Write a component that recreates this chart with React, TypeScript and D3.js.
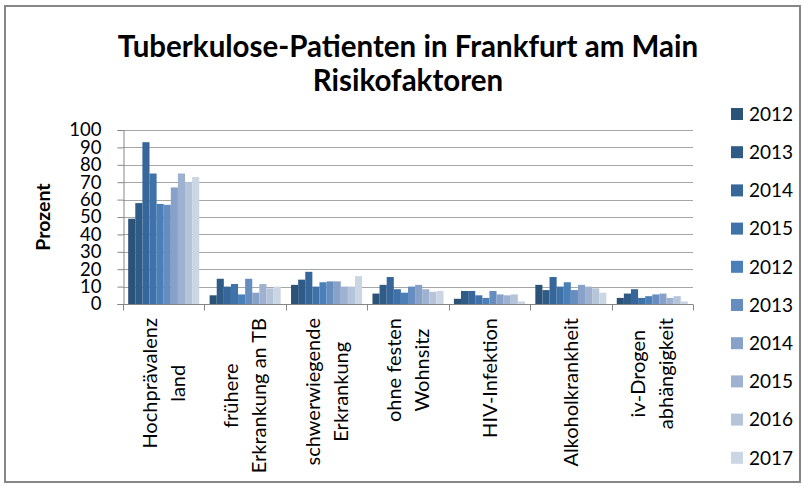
import React, { useEffect, useRef } from 'react';
import * as d3 from 'd3';

const categories: string[][] = [
  ['Hochprävalenz', 'land'],
  ['frühere', 'Erkrankung an TB'],
  ['schwerwiegende', 'Erkrankung'],
  ['ohne festen', 'Wohnsitz'],
  ['HIV-Infektion'],
  ['Alkoholkrankheit'],
  ['iv-Drogen', 'abhängigkeit'],
];

const seriesNames = ['2012', '2013', '2014', '2015', '2012', '2013', '2014', '2015', '2016', '2017'];

const s2012a = [49, 5, 11, 6, 3, 11, 3.5];
const s2013a = [58, 14.5, 14, 11, 7.5, 8, 6];
const s2014a = [93, 10, 18.5, 15.5, 7.5, 15.5, 8.5];
const s2015a = [75, 11.5, 10, 8.5, 5, 10, 3.5];
const s2012b = [57.5, 5.5, 12.5, 6.5, 3.5, 12.5, 4.5];
const s2013b = [57, 14.5, 13, 10, 7.5, 8, 5.5];
const s2014b = [67, 6.5, 13, 11, 5.5, 11, 6];
const s2015b = [75, 11.5, 10, 8.5, 5, 10, 3.5];
const s2016 = [70, 9, 10, 7, 5.5, 9, 4.5];
const s2017 = [73, 10, 16, 7.5, 1.5, 6.5, 1.5];

const seriesValues = [s2012a, s2013a, s2014a, s2015a, s2012b, s2013b, s2014b, s2015b, s2016, s2017];

const colors = [
  '#2b5277', '#2f5c87', '#36669a', '#3f72a8', '#4a7fb8',
  '#658dc0', '#88a1c9', '#9fb1d0', '#b6c4d9', '#cbd6e4',
];

const yTicks = [0, 10, 20, 30, 40, 50, 60, 70, 80, 90, 100];

const W = 803;
const H = 486;
const FONT = 'Lato, "Open Sans", sans-serif';

const App: React.FC = () => {
  const ref = useRef<SVGSVGElement | null>(null);

  useEffect(() => {
    const svg = d3.select(ref.current);
    svg.selectAll('*').remove();

    const margin = { top: 130, right: 110, bottom: 182, left: 123 };

    // outer frame
    svg.append('rect')
      .attr('x', 5).attr('y', 6)
      .attr('width', W - 8).attr('height', H - 10)
      .attr('fill', '#fff')
      .attr('stroke', '#868686')
      .attr('stroke-width', 2);

    const x0 = d3.scaleBand<number>()
      .domain(d3.range(categories.length))
      .range([margin.left, W - margin.right]);

    const x1 = d3.scaleBand<number>()
      .domain(d3.range(seriesNames.length))
      .range([0, x0.bandwidth()])
      .paddingInner(0)
      .paddingOuter(0.73);

    const y = d3.scaleLinear()
      .domain([0, 100])
      .range([H - margin.bottom, margin.top]);

    // gridlines
    svg.append('g')
      .selectAll('line')
      .data(yTicks.filter(t => t > 0))
      .join('line')
      .attr('x1', margin.left).attr('x2', W - margin.right)
      .attr('y1', d => Math.round(y(d)) + 0.5).attr('y2', d => Math.round(y(d)) + 0.5)
      .attr('stroke', '#a6a6a6');

    // bars
    seriesValues.forEach((vals, si) => {
      svg.append('g')
        .attr('fill', colors[si])
        .selectAll('rect')
        .data(vals)
        .join('rect')
        .attr('x', (_, ci) => (x0(ci) as number) + (x1(si) as number))
        .attr('width', x1.bandwidth())
        .attr('y', d => y(d))
        .attr('height', d => y(0) - y(d));
    });

    // y axis
    const yAxis = svg.append('g')
      .attr('transform', `translate(${margin.left + 0.5},0)`)
      .call(d3.axisLeft(y).tickValues(yTicks).tickSize(6).tickPadding(16).tickFormat(d3.format('d')));
    yAxis.select('.domain').attr('stroke', '#868686');
    yAxis.selectAll('.tick line').attr('stroke', '#868686');
    yAxis.selectAll('.tick text')
      .attr('font-family', FONT)
      .attr('font-size', 18.5)
      .attr('fill', '#000');

    // x axis line + ticks
    const x0Line = Math.round(y(0)) + 0.5;
    svg.append('line')
      .attr('x1', margin.left).attr('x2', W - margin.right)
      .attr('y1', x0Line).attr('y2', x0Line)
      .attr('stroke', '#868686');
    const bounds = d3.range(categories.length + 1).map(i =>
      i < categories.length ? (x0(i) as number) : (x0(i - 1) as number) + x0.bandwidth());
    svg.append('g')
      .selectAll('line')
      .data(bounds)
      .join('line')
      .attr('x1', d => Math.round(d) + 0.5).attr('x2', d => Math.round(d) + 0.5)
      .attr('y1', x0Line).attr('y2', x0Line + 6)
      .attr('stroke', '#868686');

    // category labels (rotated, lines centered, block end at top)
    const lineGap = 28;
    categories.forEach((lines, ci) => {
      const cx = (x0(ci) as number) + x0.bandwidth() / 2;
      const g = svg.append('g')
        .attr('transform', `translate(${cx},318) rotate(-90)`);
      const texts = lines.map((ln, li) =>
        g.append('text')
          .attr('y', (li - (lines.length - 1) / 2) * lineGap)
          .attr('dy', '0.36em')
          .attr('text-anchor', 'middle')
          .attr('font-family', FONT)
          .attr('font-size', 20)
          .attr('fill', '#000')
          .text(ln));
      const maxLen = d3.max(texts, t => (t.node() as SVGTextElement).getComputedTextLength()) || 0;
      texts.forEach(t => t.attr('x', -maxLen / 2));
    });

    // y axis title
    svg.append('text')
      .attr('transform', `translate(50,${(y(0) + y(100)) / 2}) rotate(-90)`)
      .attr('text-anchor', 'middle')
      .attr('font-family', FONT)
      .attr('font-size', 19.5)
      .attr('font-weight', 'bold')
      .text('Prozent');

    // chart title
    const title = svg.append('text')
      .attr('text-anchor', 'middle')
      .attr('font-family', FONT)
      .attr('font-size', 29.5)
      .attr('font-weight', 'bold')
      .attr('fill', '#000');
    title.append('tspan').attr('x', 408).attr('y', 57).text('Tuberkulose-Patienten in Frankfurt am Main');
    title.append('tspan').attr('x', 408).attr('y', 91).text('Risikofaktoren');

    // legend
    const legend = svg.append('g');
    seriesNames.forEach((name, i) => {
      const cy = 114 + i * 38.2;
      legend.append('rect')
        .attr('x', 731).attr('y', cy - 6)
        .attr('width', 12).attr('height', 12)
        .attr('fill', colors[i]);
      legend.append('text')
        .attr('x', 749).attr('y', cy)
        .attr('dy', '0.36em')
        .attr('font-family', FONT)
        .attr('font-size', 19)
        .attr('fill', '#000')
        .text(name);
    });
  }, []);

  return (
    <svg ref={ref} width={W} height={H}
      style={{ position: 'absolute', left: 0, top: 0, background: '#fff' }} />
  );
};

export default App;
